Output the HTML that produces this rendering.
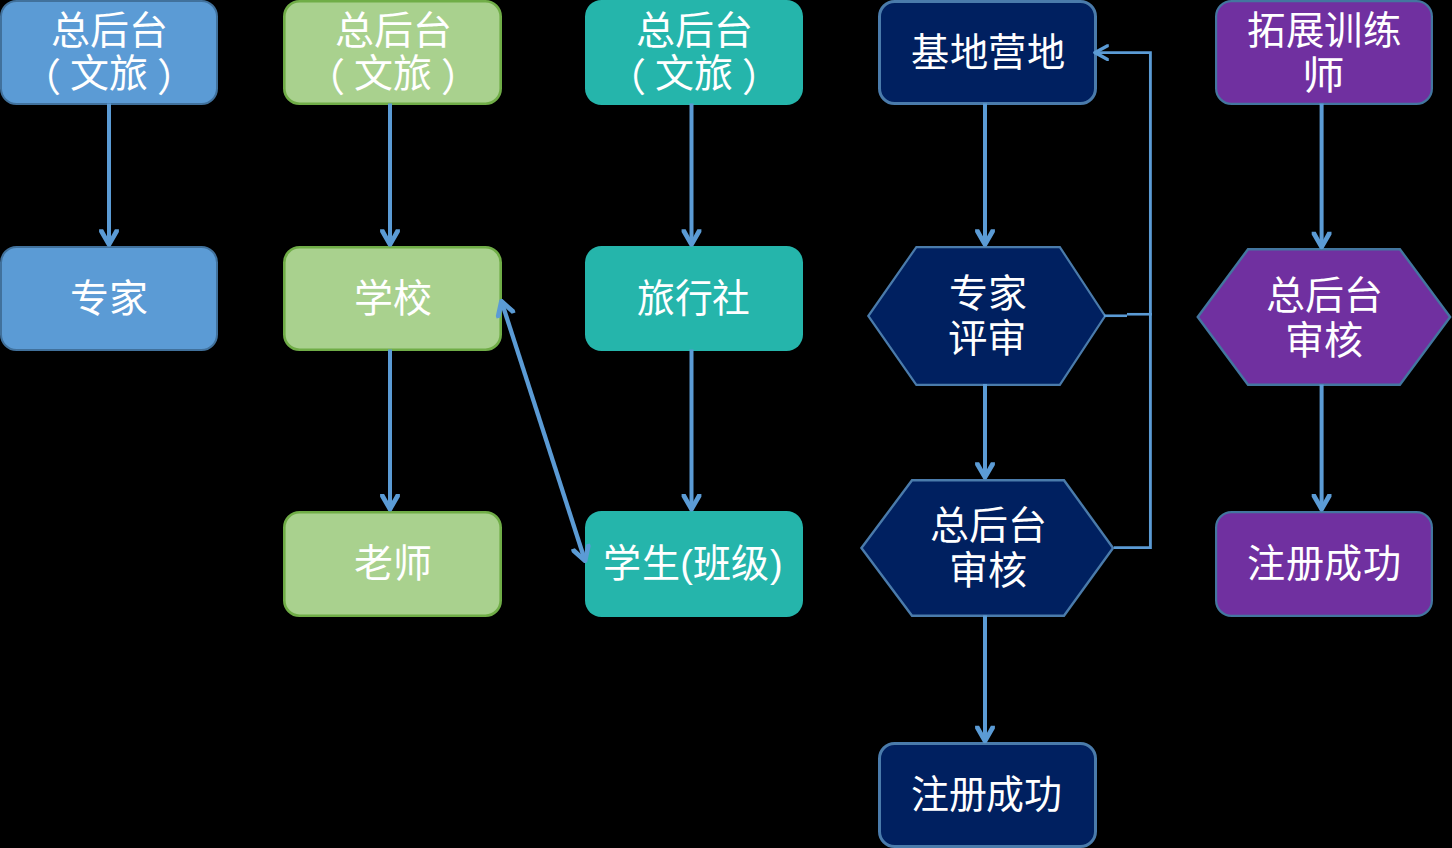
<!DOCTYPE html>
<html lang="zh-CN">
<head>
<meta charset="utf-8">
<style>
html,body{margin:0;padding:0;background:#000;width:1452px;height:848px;overflow:hidden}
svg{display:block;position:absolute;left:0;top:0}
text{font-family:"Liberation Sans",sans-serif;fill:#fff;font-size:39px}
</style>
</head>
<body>
<svg width="1452" height="848" viewBox="0 0 1452 848">
<rect x="0" y="0" width="1452" height="848" fill="#000"/>
<rect x="1.00" y="1.00" width="216.00" height="103.00" rx="15.50" fill="#5B9BD5" stroke="#41719C" stroke-width="2.00"/>
<rect x="284.30" y="1.30" width="216.40" height="102.40" rx="15.20" fill="#A9D18E" stroke="#70AD47" stroke-width="2.60"/>
<rect x="585.00" y="0.00" width="218.00" height="105.00" rx="16.50" fill="#25B5AB"/>
<rect x="879.50" y="1.50" width="216.00" height="102.00" rx="15.00" fill="#002060" stroke="#4A7BAB" stroke-width="3.00"/>
<rect x="1216.10" y="1.10" width="215.80" height="102.80" rx="15.40" fill="#7030A0" stroke="#43769F" stroke-width="2.20"/>
<rect x="1.00" y="247.00" width="216.00" height="103.00" rx="15.50" fill="#5B9BD5" stroke="#41719C" stroke-width="2.00"/>
<rect x="284.30" y="247.30" width="216.40" height="102.40" rx="15.20" fill="#A9D18E" stroke="#70AD47" stroke-width="2.60"/>
<rect x="585.00" y="246.00" width="218.00" height="105.00" rx="16.50" fill="#25B5AB"/>
<polygon points="868.32,316.00 916.36,247.10 1059.84,247.10 1105.08,316.00 1059.84,384.90 916.36,384.90" fill="#002060" stroke="#4A7BAB" stroke-width="2.20" stroke-linejoin="miter"/>
<polygon points="1197.74,317.00 1248.02,249.20 1399.88,249.20 1450.16,317.00 1399.88,384.80 1248.02,384.80" fill="#7030A0" stroke="#43769F" stroke-width="2.40" stroke-linejoin="miter"/>
<rect x="284.30" y="512.30" width="216.40" height="103.40" rx="15.20" fill="#A9D18E" stroke="#70AD47" stroke-width="2.60"/>
<rect x="585.00" y="511.00" width="218.00" height="106.00" rx="16.50" fill="#25B5AB"/>
<polygon points="861.44,548.00 912.02,480.20 1063.98,480.20 1113.06,548.00 1063.98,615.80 912.02,615.80" fill="#002060" stroke="#4A7BAB" stroke-width="2.40" stroke-linejoin="miter"/>
<rect x="1216.10" y="512.10" width="215.80" height="103.80" rx="15.40" fill="#7030A0" stroke="#43769F" stroke-width="2.20"/>
<rect x="879.50" y="743.50" width="216.00" height="103.00" rx="15.00" fill="#002060" stroke="#4A7BAB" stroke-width="3.00"/>
<rect x="107.00" y="103.50" width="4.00" height="138.00" fill="#5B9BD5"/>
<polygon points="99.10,229.30 103.10,229.30 109.00,239.90 114.90,229.30 118.90,229.30 118.90,232.10 110.70,246.20 109.00,246.70 107.30,246.20 99.10,232.10" fill="#5B9BD5"/>
<rect x="388.00" y="103.50" width="4.00" height="138.00" fill="#5B9BD5"/>
<polygon points="380.10,229.30 384.10,229.30 390.00,239.90 395.90,229.30 399.90,229.30 399.90,232.10 391.70,246.20 390.00,246.70 388.30,246.20 380.10,232.10" fill="#5B9BD5"/>
<rect x="388.00" y="349.50" width="4.00" height="156.70" fill="#5B9BD5"/>
<polygon points="380.10,494.00 384.10,494.00 390.00,504.60 395.90,494.00 399.90,494.00 399.90,496.80 391.70,510.90 390.00,511.40 388.30,510.90 380.10,496.80" fill="#5B9BD5"/>
<rect x="689.50" y="103.50" width="4.00" height="138.00" fill="#5B9BD5"/>
<polygon points="681.60,229.30 685.60,229.30 691.50,239.90 697.40,229.30 701.40,229.30 701.40,232.10 693.20,246.20 691.50,246.70 689.80,246.20 681.60,232.10" fill="#5B9BD5"/>
<rect x="689.50" y="349.50" width="4.00" height="156.70" fill="#5B9BD5"/>
<polygon points="681.60,494.00 685.60,494.00 691.50,504.60 697.40,494.00 701.40,494.00 701.40,496.80 693.20,510.90 691.50,511.40 689.80,510.90 681.60,496.80" fill="#5B9BD5"/>
<rect x="983.00" y="103.50" width="4.00" height="138.00" fill="#5B9BD5"/>
<polygon points="975.10,229.30 979.10,229.30 985.00,239.90 990.90,229.30 994.90,229.30 994.90,232.10 986.70,246.20 985.00,246.70 983.30,246.20 975.10,232.10" fill="#5B9BD5"/>
<rect x="983.00" y="384.00" width="4.00" height="90.40" fill="#5B9BD5"/>
<polygon points="975.10,462.20 979.10,462.20 985.00,472.80 990.90,462.20 994.90,462.20 994.90,465.00 986.70,479.10 985.00,479.60 983.30,479.10 975.10,465.00" fill="#5B9BD5"/>
<rect x="983.00" y="615.50" width="4.00" height="122.50" fill="#5B9BD5"/>
<polygon points="975.10,725.80 979.10,725.80 985.00,736.40 990.90,725.80 994.90,725.80 994.90,728.60 986.70,742.70 985.00,743.20 983.30,742.70 975.10,728.60" fill="#5B9BD5"/>
<rect x="1319.60" y="103.50" width="4.00" height="140.50" fill="#5B9BD5"/>
<polygon points="1311.70,231.80 1315.70,231.80 1321.60,242.40 1327.50,231.80 1331.50,231.80 1331.50,234.60 1323.30,248.70 1321.60,249.20 1319.90,248.70 1311.70,234.60" fill="#5B9BD5"/>
<rect x="1319.60" y="384.50" width="4.00" height="121.70" fill="#5B9BD5"/>
<polygon points="1311.70,494.00 1315.70,494.00 1321.60,504.60 1327.50,494.00 1331.50,494.00 1331.50,496.80 1323.30,510.90 1321.60,511.40 1319.90,510.90 1311.70,496.80" fill="#5B9BD5"/>
<line x1="502.50" y1="304.47" x2="584.00" y2="557.53" stroke="#5B9BD5" stroke-width="4.3"/>
<polygon points="571.00,549.46 574.81,548.24 583.68,556.52 586.04,544.62 589.85,543.39 590.71,546.06 587.23,561.99 585.76,562.99 583.99,563.04 571.86,552.13" fill="#5B9BD5"/>
<polygon points="515.50,312.54 511.69,313.76 502.82,305.48 500.46,317.38 496.65,318.61 495.79,315.94 499.27,300.01 500.74,299.01 502.51,298.96 514.64,309.87" fill="#5B9BD5"/>
<polyline fill="none" stroke="#5B9BD5" stroke-width="2.85" stroke-linejoin="miter" points="1114,547.55 1150.4,547.55 1150.4,52.55 1097,52.55"/>
<rect x="1104" y="314.45" width="23" height="2.6" fill="#5B9BD5"/>
<rect x="1127" y="312.95" width="25" height="2.6" fill="#5B9BD5"/>
<polygon points="1108.80,44.25 1108.80,47.00 1098.70,52.60 1108.80,58.20 1108.80,60.95 1106.80,60.95 1093.50,53.80 1093.00,52.60 1093.50,51.40 1106.80,44.25" fill="#5B9BD5"/>
<text x="51.05" y="44.15">总后台</text>
<text x="70.15" y="86.70">文旅</text>
<text x="334.80" y="44.15">总后台</text>
<text x="353.65" y="86.70">文旅</text>
<text x="635.90" y="44.15">总后台</text>
<text x="654.95" y="86.70">文旅</text>
<text x="909.50" y="65.80" transform="translate(988.00 0) scale(0.9804 1) translate(-988.00 0)">基地营地</text>
<text x="1245.90" y="43.95" transform="translate(1323.90 0) scale(0.9855 1) translate(-1323.90 0)">拓展训练</text>
<text x="1304.10" y="89.10" transform="translate(1324.60 0) scale(1.0909 1) translate(-1324.60 0)">师</text>
<text x="70.05" y="311.80">专家</text>
<text x="353.75" y="312.00">学校</text>
<text x="635.35" y="311.85" transform="translate(693.85 0) scale(0.9696 1) translate(-693.85 0)">旅行社</text>
<text x="948.75" y="306.60">专家</text>
<text x="948.55" y="352.35" transform="translate(987.05 0) scale(1.0123 1) translate(-987.05 0)">评审</text>
<text x="1265.95" y="308.85">总后台</text>
<text x="1285.40" y="353.60">审核</text>
<text x="353.75" y="577.00">老师</text>
<text x="601.00" y="577.10" transform="translate(692.00 0) scale(0.9753 1) translate(-692.00 0)">学生(班级)</text>
<text x="929.90" y="539.20">总后台</text>
<text x="948.95" y="583.95">审核</text>
<text x="1245.25" y="576.85" transform="translate(1323.25 0) scale(0.9770 1) translate(-1323.25 0)">注册成功</text>
<text x="909.25" y="807.85" transform="translate(987.25 0) scale(0.9730 1) translate(-987.25 0)">注册成功</text>
<text x="21.9" y="90.8">（</text>
<text x="157.3" y="90.8">）</text>
<text x="305.5" y="90.8">（</text>
<text x="441.2" y="90.8">）</text>
<text x="607.2" y="90.8">（</text>
<text x="742.2" y="90.8">）</text>
</svg>
</body>
</html>
